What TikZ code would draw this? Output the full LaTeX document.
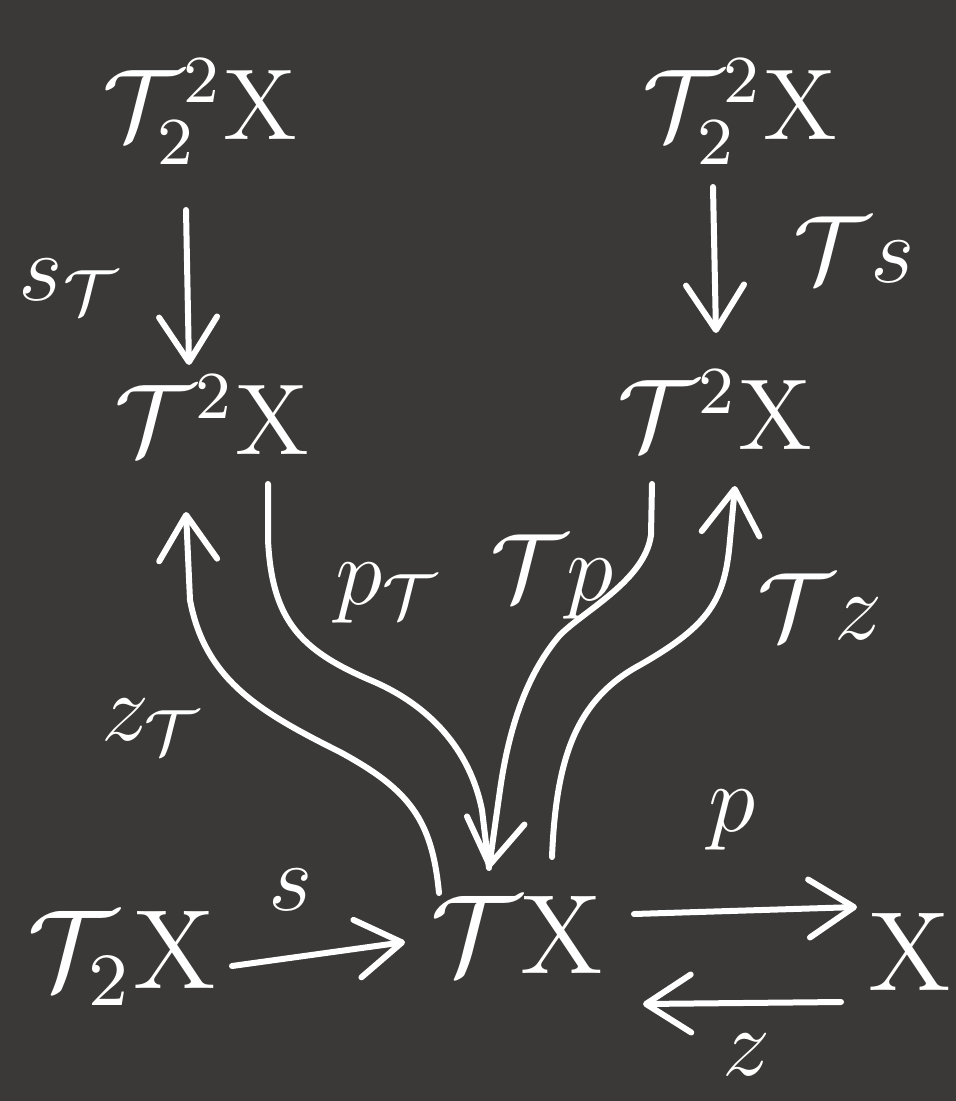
\documentclass[tikz,border=0pt]{standalone}
\usepackage{graphicx}
\usetikzlibrary{arrows.meta}
\definecolor{bg}{RGB}{58,57,55}
\newcommand{\objsize}[1]{\scalebox{8.4}{$#1$}}
\newcommand{\bigsize}[1]{\scalebox{9.4}{$#1$}}
\newcommand{\labsize}[1]{\scalebox{8}{$#1$}}
\begin{document}
\begin{tikzpicture}[x=1pt,y=-1pt,
  obj/.style={text=white, inner sep=0pt, font=\fontsize{12}{14}\selectfont},
  lab/.style={text=white, inner sep=0pt, font=\fontsize{12}{14}\selectfont},
  arr/.style={draw=white, line width=6pt, line cap=round, line join=round, -{Straight Barb[round,length=45pt,width=58pt]}},
  ln/.style={draw=white, line width=6pt, line cap=round, line join=round}]
\fill[bg] (0,0) rectangle (956,1101);
\useasboundingbox (0,0) rectangle (956,1101);
% objects
\node[obj] (A) at (200,112) {\objsize{\mathcal{T}_2^2\mathrm{X}}};
\node[obj] (B) at (740,112) {\objsize{\mathcal{T}_2^2\mathrm{X}}};
\node[obj] (C) at (212,415) {\objsize{\mathcal{T}^2\mathrm{X}}};
\node[obj] (D) at (715,410) {\objsize{\mathcal{T}^2\mathrm{X}}};
\node[obj] (E) at (122,958) {\bigsize{\mathcal{T}_2\mathrm{X}}};
\node[obj] (F) at (517,935) {\bigsize{\mathcal{T}\mathrm{X}}};
\node[obj] (G) at (910,952) {\bigsize{\mathrm{X}}};
% labels
\node[lab] (lsT) at (70,287) {\labsize{s_{\mathcal{T}}}};
\node[lab] (lTs) at (854,250) {\labsize{\mathcal{T}s}};
\node[lab] (lpT) at (388,593) {\labsize{p_{\mathcal{T}}}};
\node[lab] (lTp) at (552,577) {\labsize{\mathcal{T}p}};
\node[lab] (lTz) at (820,607) {\labsize{\mathcal{T}z}};
\node[lab] (lzT) at (152,727) {\labsize{z_{\mathcal{T}}}};
\node[lab] (ls) at (291,890) {\labsize{s}};
\node[lab] (lp) at (732,820) {\labsize{p}};
\node[lab] (lz) at (746,1055) {\labsize{z}};
% endpoints
\coordinate (sT0) at (186,210); \coordinate (sT1) at (189,365);
\coordinate (Ts0) at (713,187); \coordinate (Ts1) at (716,333);
\coordinate (s0) at (232,966);  \coordinate (s1) at (405,942);
\coordinate (p0) at (634,914);  \coordinate (p1) at (857,907);
\coordinate (z0) at (841,1002); \coordinate (z1) at (643,1004);
\coordinate (zT0) at (439,893); \coordinate (zT1) at (186,512);
\coordinate (pT0) at (268,484); \coordinate (tip) at (489,868);
\coordinate (Tp0) at (652,484);
\coordinate (Tz0) at (552,857); \coordinate (Tz1) at (735,486);
% straight arrows
\draw[arr] (sT0) -- (sT1);
\draw[arr] (Ts0) -- (Ts1);
\draw[arr] (s0) -- (s1);
\draw[arr] (p0) -- (p1);
\draw[arr] (z0) -- (z1);
% curved arrows
\draw[arr] (zT0) .. controls (432,820) and (410,790) .. (340,752)
  .. controls (260,712) and (205,680) .. (190,600) -- (zT1);
\draw[ln] (pT0) -- (268,540) .. controls (272,620) and (300,650) .. (370,680)
  .. controls (430,705) and (470,750) .. (482,810) -- (tip);
\draw[arr] (Tp0) -- (651,535) .. controls (645,580) and (585,610) .. (560,635)
  .. controls (530,670) and (510,720) .. (500,790) -- (tip);
\draw[arr] (Tz0) .. controls (556,760) and (575,700) .. (640,665)
  .. controls (710,625) and (725,600) .. (730,540) -- (Tz1);
\end{tikzpicture}
\end{document}
